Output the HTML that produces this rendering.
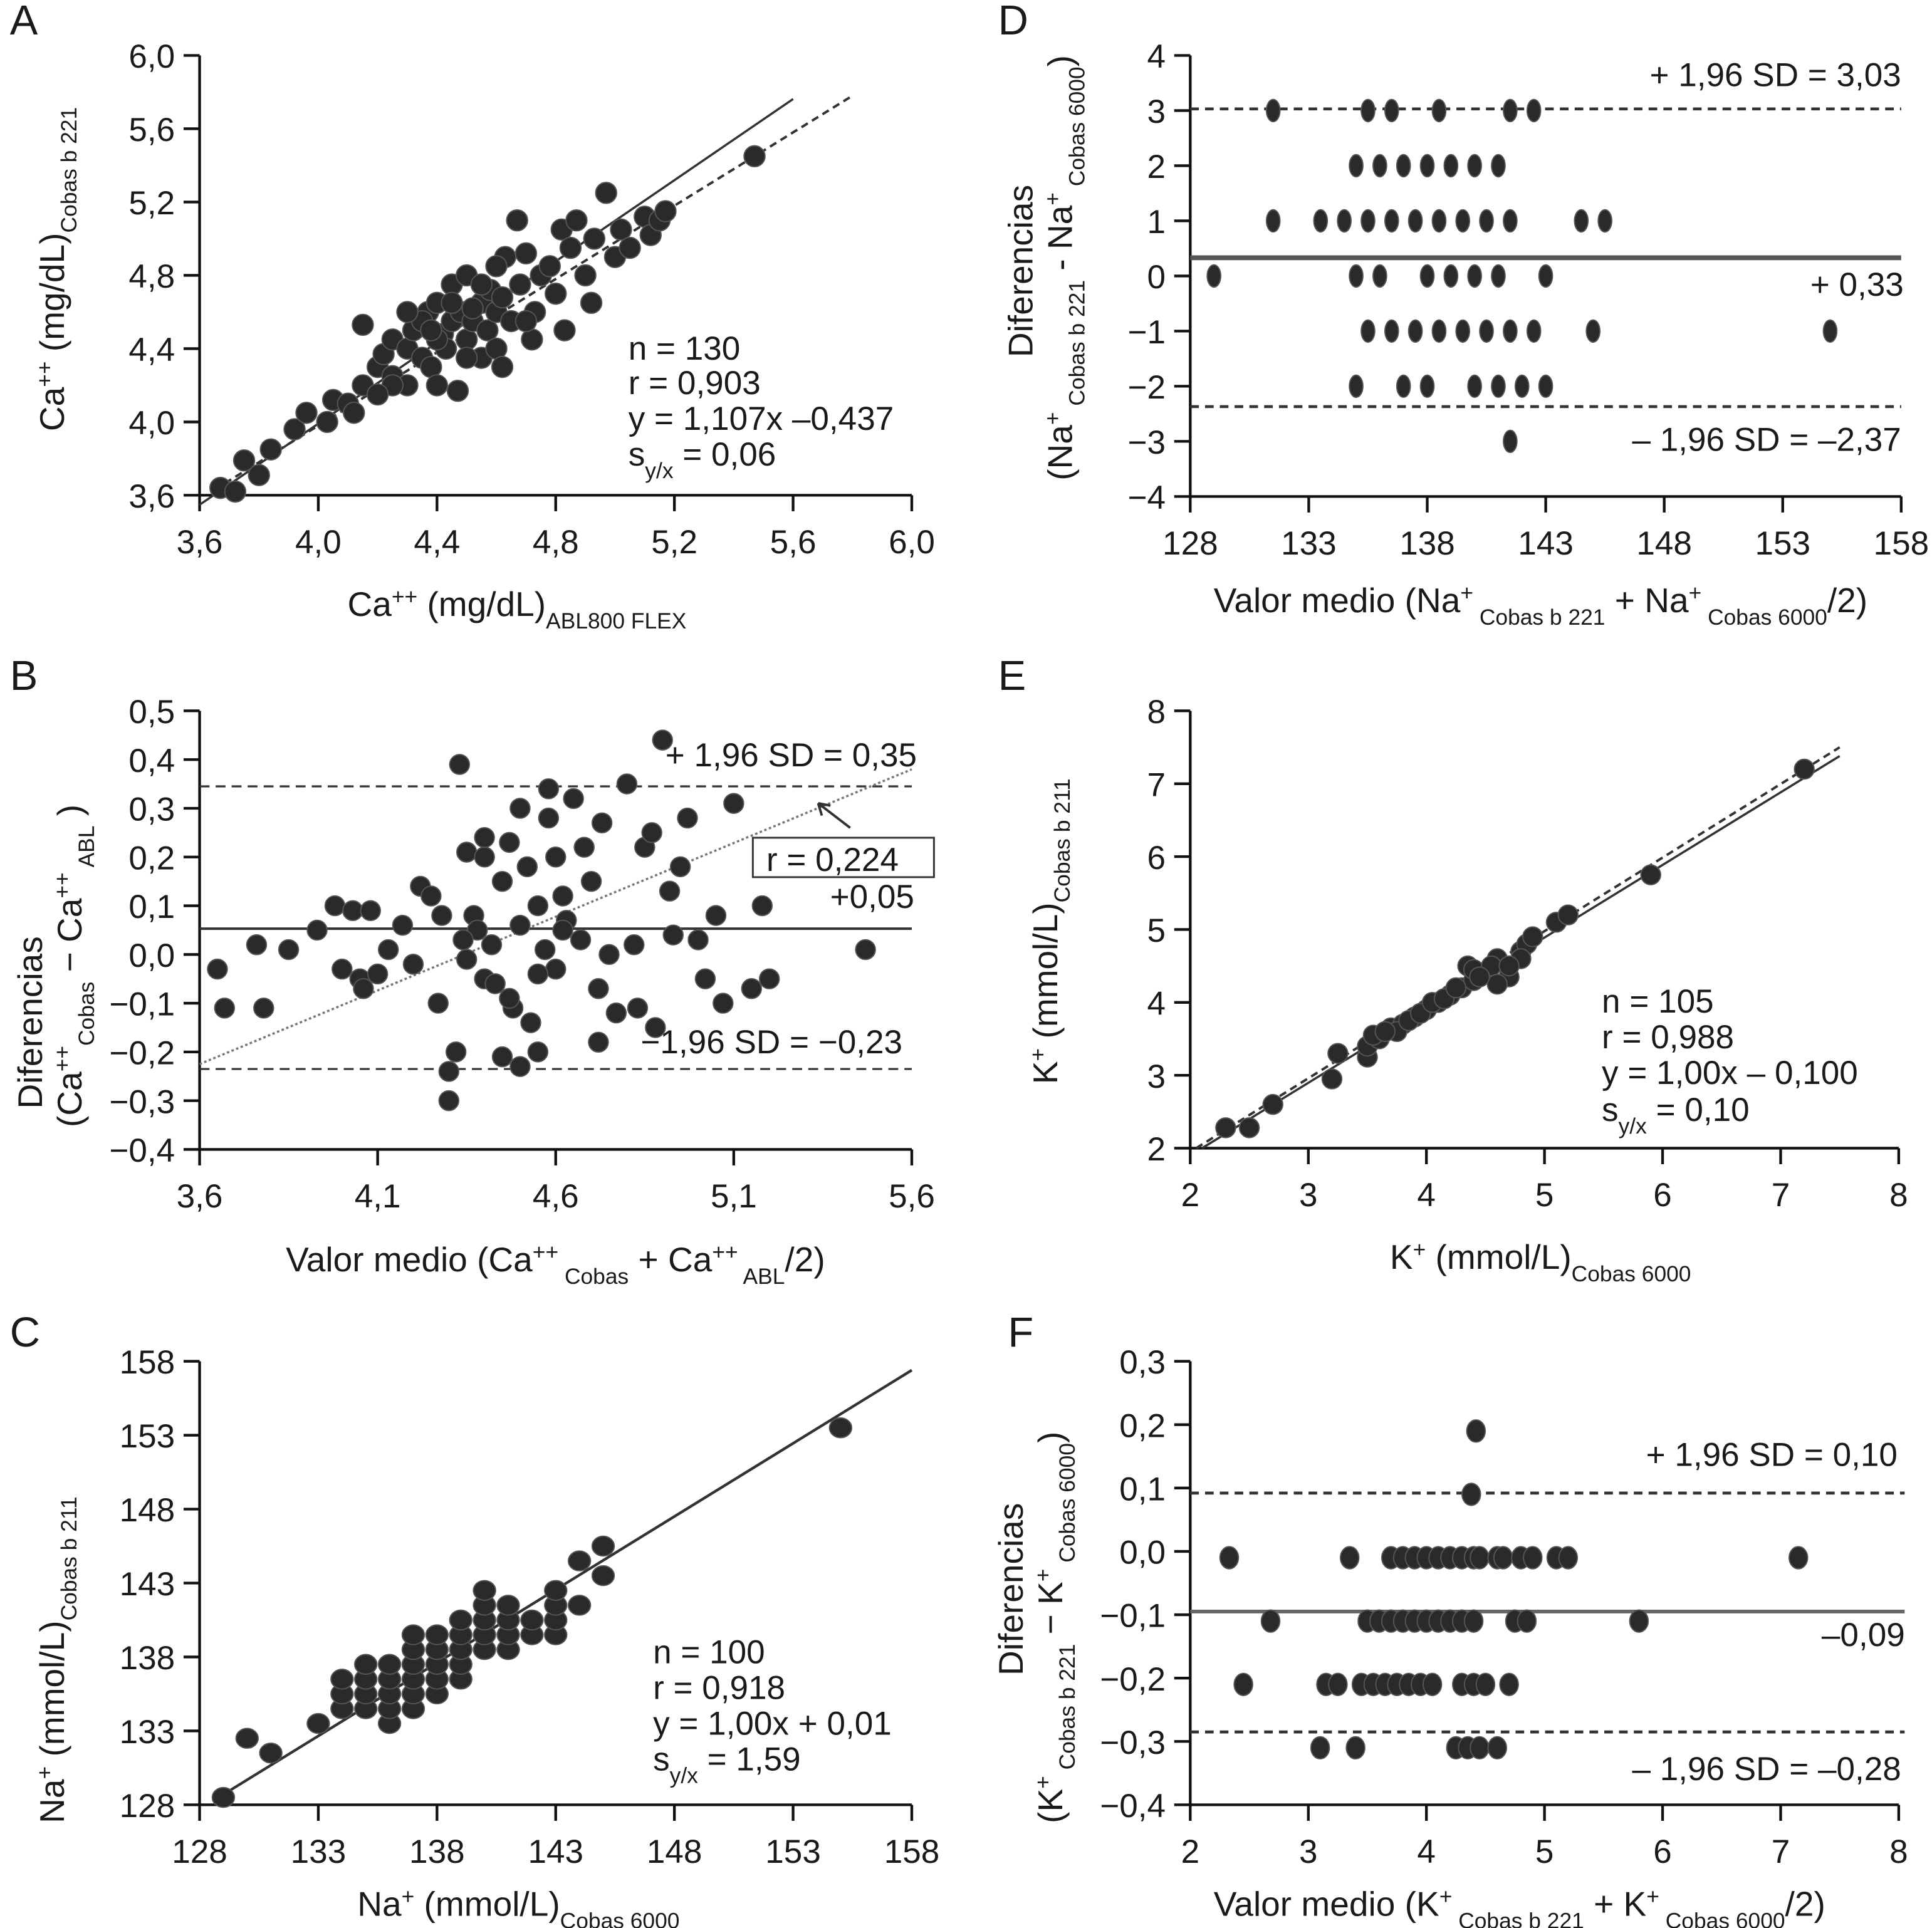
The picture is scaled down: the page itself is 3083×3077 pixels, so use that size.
<!DOCTYPE html>
<html><head><meta charset="utf-8"><style>
html,body{margin:0;padding:0;background:#fff}
svg{display:block}
text{font-family:"Liberation Sans",Arial,sans-serif;fill:#1a1a1a}
</style></head><body>
<svg id="fig" width="3083" height="3077" viewBox="0 0 1568 1565" preserveAspectRatio="none" xmlns="http://www.w3.org/2000/svg"></svg>
<script>
// ---------- DATA ----------
const aX=[3.67,3.72,3.75,3.8,3.84,3.92,3.96,4.05,4.03,4.1,4.12,4.15,4.15,4.2,4.22,4.25,4.25,4.3,4.3,4.32,4.35,4.37,4.38,4.4,4.4,4.42,4.43,4.45,4.45,4.47,4.48,4.5,4.5,4.52,4.55,4.55,4.57,4.58,4.6,4.6,4.62,4.63,4.65,4.67,4.68,4.7,4.72,4.73,4.75,4.78,4.8,4.82,4.83,4.85,4.87,4.9,4.92,4.93,4.97,5.0,5.02,5.05,5.1,5.12,5.15,5.17,5.47,4.35,4.4,4.5,4.45,4.55,4.3,4.6,4.25,4.2,4.38,4.52,4.62,4.7];
const aY=[3.64,3.62,3.79,3.71,3.85,3.96,4.05,4.12,4.0,4.1,4.05,4.2,4.53,4.3,4.37,4.45,4.25,4.4,4.2,4.5,4.35,4.6,4.3,4.2,4.65,4.48,4.4,4.55,4.75,4.17,4.6,4.45,4.8,4.55,4.65,4.35,4.5,4.72,4.4,4.6,4.3,4.9,4.55,5.1,4.75,4.92,4.45,4.6,4.8,4.85,4.7,5.05,4.5,4.95,5.1,4.8,4.65,5.0,5.25,4.9,5.05,4.95,5.12,5.02,5.1,5.15,5.45,4.55,4.45,4.35,4.65,4.75,4.6,4.85,4.2,4.15,4.5,4.62,4.68,4.55];
const bX=[3.65,3.67,3.76,3.78,3.85,3.93,3.98,4.0,4.03,4.05,4.06,4.08,4.1,4.13,4.17,4.2,4.22,4.25,4.27,4.3,4.3,4.32,4.33,4.35,4.37,4.38,4.4,4.4,4.42,4.43,4.45,4.45,4.47,4.48,4.5,4.5,4.52,4.53,4.55,4.55,4.57,4.58,4.6,4.6,4.62,4.63,4.65,4.67,4.68,4.7,4.72,4.73,4.75,4.77,4.8,4.82,4.83,4.85,4.87,4.88,4.9,4.92,4.93,4.95,4.97,5.0,5.02,5.05,5.07,5.1,5.15,5.18,5.2,5.47,4.34,4.5,4.35,4.47,4.58,4.72,4.4,4.28,4.55,4.62];
const bY=[-0.03,-0.11,0.02,-0.11,0.01,0.05,0.1,-0.03,0.09,-0.05,-0.07,0.09,-0.04,0.01,0.06,-0.02,0.14,0.12,-0.1,-0.24,-0.3,-0.2,0.39,0.21,0.08,0.05,0.2,-0.05,0.02,-0.06,0.15,-0.21,0.23,-0.11,0.3,0.06,0.18,-0.14,0.1,-0.2,0.01,0.34,0.2,-0.03,0.12,0.07,0.32,0.03,0.22,0.15,-0.07,0.27,0.0,-0.12,0.35,0.02,-0.11,0.22,0.25,-0.15,0.44,0.13,0.04,0.18,0.28,0.03,-0.05,0.08,-0.1,0.31,-0.07,0.1,-0.05,0.01,0.03,-0.23,-0.01,-0.09,0.28,-0.18,0.24,0.08,-0.04,0.05];
const cX=[129,130,131,133,134,134,134,135,135,135,135,136,136,136,136,136,137,137,137,137,137,137,138,138,138,138,138,139,139,139,139,139,140,140,140,140,140,141,141,141,141,142,142,143,143,143,143,144,144,145,145,155];
const cY=[128.5,132.5,131.5,133.5,134.5,135.5,136.5,134.5,135.5,136.5,137.5,133.5,134.5,135.5,136.5,137.5,134.5,135.5,136.5,137.5,138.5,139.5,135.5,136.5,137.5,138.5,139.5,136.5,137.5,138.5,139.5,140.5,138.5,139.5,140.5,141.5,142.5,138.5,139.5,140.5,141.5,139.5,140.5,139.5,140.5,141.5,142.5,141.5,144.5,143.5,145.5,153.5];
const dX=[131.5,135.5,136.5,138.5,141.5,142.5, 135,136,137,138,139,140,141, 131.5,133.5,134.5,135.5,136.5,137.5,138.5,139.5,140.5,141.5,144.5,145.5, 129,135,136,138,139,140,141,143, 135.5,136.5,137.5,138.5,139.5,140.5,141.5,142.5,145,155, 135,137,138,140,141,142,143, 141.5];
const dY=[3,3,3,3,3,3, 2,2,2,2,2,2,2, 1,1,1,1,1,1,1,1,1,1,1,1, 0,0,0,0,0,0,0,0, -1,-1,-1,-1,-1,-1,-1,-1,-1,-1, -2,-2,-2,-2,-2,-2,-2, -3];
const eX=[2.3,2.5,2.7,3.2,3.25,3.5,3.5,3.6,3.7,3.8,3.9,4.0,4.1,4.2,4.3,4.35,4.4,4.5,4.6,4.7,4.8,4.85,4.9,5.1,5.2,5.9,7.2,3.55,3.75,3.85,3.95,4.05,4.15,4.25,4.4,4.55,4.6,4.8,4.7,3.65,4.45];
const eY=[2.28,2.28,2.6,2.95,3.3,3.25,3.4,3.5,3.65,3.7,3.8,3.9,4.0,4.1,4.2,4.5,4.3,4.4,4.6,4.35,4.7,4.8,4.9,5.1,5.2,5.75,7.2,3.55,3.6,3.75,3.85,4.0,4.05,4.2,4.45,4.5,4.25,4.6,4.5,3.6,4.35];
const fX=[4.42,4.38, 2.33,3.35,3.7,3.8,3.9,4.0,4.1,4.2,4.3,4.4,4.45,4.6,4.65,4.8,4.9,5.1,5.2,7.15, 2.68,3.5,3.6,3.7,3.8,3.9,4.0,4.1,4.2,4.3,4.4,4.75,4.85,5.8, 2.45,3.15,3.25,3.45,3.55,3.65,3.75,3.85,3.95,4.05,4.3,4.4,4.5,4.7, 3.1,3.4,4.25,4.35,4.45,4.6];
const fY=[0.19,0.09, -0.01,-0.01,-0.01,-0.01,-0.01,-0.01,-0.01,-0.01,-0.01,-0.01,-0.01,-0.01,-0.01,-0.01,-0.01,-0.01,-0.01,-0.01, -0.11,-0.11,-0.11,-0.11,-0.11,-0.11,-0.11,-0.11,-0.11,-0.11,-0.11,-0.11,-0.11,-0.11, -0.21,-0.21,-0.21,-0.21,-0.21,-0.21,-0.21,-0.21,-0.21,-0.21,-0.21,-0.21,-0.21,-0.21, -0.31,-0.31,-0.31,-0.31,-0.31,-0.31];
const aTicks=["3,6","4,0","4,4","4,8","5,2","5,6","6,0"];
const bXTicks=["3,6","4,1","4,6","5,1","5,6"];
const bYTicks=["−0,4","−0,3","−0,2","−0,1","0,0","0,1","0,2","0,3","0,4","0,5"];
const cTicks=["128","133","138","143","148","153","158"];
const dYTicks=["−4","−3","−2","−1","0","1","2","3","4"];
const eTicks=["2","3","4","5","6","7","8"];
const fYTicks=["−0,4","−0,3","−0,2","−0,1","0,0","0,1","0,2","0,3"];

// ---------- DRAW ----------
const svg=document.getElementById('fig');
const NS='http://www.w3.org/2000/svg';
function el(tag,attrs,parent){const e=document.createElementNS(NS,tag);for(const k in attrs)e.setAttribute(k,attrs[k]);(parent||svg).appendChild(e);return e;}
function num(s){return parseFloat(s.replace('−','-').replace(',','.'));}

function panel(p){
  const g=el('g',{});
  
  
  const sx=v=>p.x0+(v-p.xmin)/(p.xmax-p.xmin)*(p.x1-p.x0);
  const sy=v=>p.y0-(v-p.ymin)/(p.ymax-p.ymin)*(p.y0-p.y1);
  p.sx=sx;p.sy=sy;
  const ax=el('path',{d:`M${p.x0},${p.y1}V${p.y0}H${p.x1}`,stroke:'#111','stroke-width':2.2,fill:'none'},g);
  
  
  p.xt.forEach(t=>{const x=sx(num(t));
    el('line',{x1:x,x2:x,y1:p.y0,y2:p.y0+13,stroke:'#111','stroke-width':2.2},g);
    const tx=el('text',{x:x,y:p.y0+47,'font-size':27,'text-anchor':'middle'},g);tx.textContent=t;
    
    });
  p.yt.forEach(t=>{const y=sy(num(t));
    el('line',{x1:p.x0-13,x2:p.x0,y1:y,y2:y,stroke:'#111','stroke-width':2.2},g);
    const ty=el('text',{x:p.x0-20,y:y+10,'font-size':27,'text-anchor':'end'},g);ty.textContent=t;
    
    });
  return g;
}
function dots(p,g,xs,ys,rx,ry){
  xs.forEach((v,i)=>{const c=el('ellipse',{cx:p.sx(v),cy:p.sy(ys[i]),rx:rx,ry:ry,fill:'#2a2a2a',stroke:'#555','stroke-width':1},g);
    
    });
}
function line(p,g,x1,y1,x2,y2,dash,w,name,col){
  const l=el('line',{x1:p.sx(x1),y1:p.sy(y1),x2:p.sx(x2),y2:p.sy(y2),stroke:col||'#333','stroke-width':w||2,'stroke-dasharray':dash||'none'},g);
  
  
}
function txt(g,x,y,html,size,name,anchor,rot){
  const t=el('text',{x:x,y:y,'font-size':size,'text-anchor':anchor||'start'},g);
  if(rot)t.setAttribute('transform',`rotate(-90 ${x} ${y})`);
  t.innerHTML=html;
  
  
}
const sup=s=>`<tspan baseline-shift="super" font-size="18">${s}</tspan>`;
const sub=s=>`<tspan baseline-shift="sub" font-size="18">${s}</tspan>`;

// Panel A
const A={name:'panel-a',x0:162,x1:740,xmin:3.6,xmax:6.0,y0:402,y1:45,ymin:3.6,ymax:6.0,xt:aTicks,yt:aTicks};
let g=panel(A);
line(A,g,3.65,3.63,5.8,5.78,'6,4',2,'dashed-fit-line');
line(A,g,3.6,3.548,5.6,5.762,'none',1.8,'regression-line');
dots(A,g,aX,aY,8.5,8.5);
txt(g,8,28,'A',34,'panel-label');
txt(g,510,292,'n = 130',27,'stat-n');
txt(g,510,320,'r = 0,903',27,'stat-r');
txt(g,510,349,'y = 1,107x –0,437',27,'stat-eq');
txt(g,510,378,'s'+sub('y/x')+' = 0,06',27,'stat-s');
txt(g,282,500,'Ca'+sup('++')+' (mg/dL)'+sub('ABL800 FLEX'),28,'x-axis-title');
txt(g,52,350,'Ca'+sup('++')+' (mg/dL)'+sub('Cobas b 221'),28,'y-axis-title','start',true);

// Panel B
const B={name:'panel-b',x0:162,x1:740,xmin:3.6,xmax:5.6,y0:933,y1:577,ymin:-0.4,ymax:0.5,xt:bXTicks,yt:bYTicks};
g=panel(B);
line(B,g,3.6,0.345,5.6,0.345,'8,5',1.6,'upper-limit-line');
line(B,g,3.6,-0.235,5.6,-0.235,'8,5',1.6,'lower-limit-line');
line(B,g,3.6,0.053,5.6,0.053,'none',2,'mean-line');
line(B,g,3.6,-0.225,5.6,0.38,'2,2',1.8,'trend-line','#777');
dots(B,g,bX,bY,8,8);
txt(g,8,560,'B',34,'panel-label');
txt(g,540,622,'+ 1,96 SD = 0,35',27,'upper-limit-label');
txt(g,742,737,'+0,05',27,'mean-label','end');
txt(g,520,855,'−1,96 SD = −0,23',27,'lower-limit-label');
const box=el('rect',{x:611,y:680,width:147,height:32,fill:'#fff',stroke:'#333','stroke-width':1.5},g);

txt(g,622,707,'r = 0,224',27,'stat-r');
el('path',{d:'M690,672 L664,652 M664,652 l3,10 M664,652 l10,2',stroke:'#333','stroke-width':2,fill:'none'},g);
txt(g,232,1032,'Valor medio (Ca'+sup('++')+sub(' Cobas')+' + Ca'+sup('++')+sub(' ABL')+'/2)',28,'x-axis-title');
txt(g,34,900,'Diferencias',28,'y-axis-title','start',true);
txt(g,66,915,'(Ca'+sup('++')+sub('Cobas')+' − Ca'+sup('++')+sub(' ABL')+' )',28,'y-axis-title-2','start',true);

// Panel C
const C={name:'panel-c',x0:162,x1:740,xmin:128,xmax:158,y0:1465,y1:1105,ymin:128,ymax:158,xt:cTicks,yt:cTicks};
g=panel(C);
line(C,g,128.8,128.5,158,157.4,'none',2.2,'regression-line');
dots(C,g,cX,cY,9,8);
txt(g,8,1093,'C',34,'panel-label');
txt(g,530,1350,'n = 100',27,'stat-n');
txt(g,530,1379,'r = 0,918',27,'stat-r');
txt(g,530,1408,'y = 1,00x + 0,01',27,'stat-eq');
txt(g,530,1437,'s'+sub('y/x')+' = 1,59',27,'stat-s');
txt(g,290,1555,'Na'+sup('+')+' (mmol/L)'+sub('Cobas 6000'),28,'x-axis-title');
txt(g,52,1480,'Na'+sup('+')+' (mmol/L)'+sub('Cobas b 211'),28,'y-axis-title','start',true);

// Panel D
const D={name:'panel-d',x0:966,x1:1543,xmin:128,xmax:158,y0:403,y1:45,ymin:-4,ymax:4,xt:cTicks,yt:dYTicks};
g=panel(D);
line(D,g,128,3.03,158,3.03,'7,5',2.4,'upper-limit-line');
line(D,g,128,-2.37,158,-2.37,'7,5',2.4,'lower-limit-line');
line(D,g,128,0.33,158,0.33,'none',4,'mean-line','#555');
dots(D,g,dX,dY,5.5,9);
txt(g,810,28,'D',34,'panel-label');
txt(g,1543,70,'+ 1,96 SD = 3,03',27,'upper-limit-label','end');
txt(g,1545,240,'+ 0,33',27,'mean-label','end');
txt(g,1543,366,'– 1,96 SD = –2,37',27,'lower-limit-label','end');
txt(g,985,497,'Valor medio (Na'+sup('+')+sub(' Cobas b 221')+' + Na'+sup('+')+sub(' Cobas 6000')+'/2)',28,'x-axis-title');
txt(g,838,290,'Diferencias',28,'y-axis-title','start',true);
txt(g,870,390,'(Na'+sup('+')+sub(' Cobas b 221')+' - Na'+sup('+')+sub(' Cobas 6000')+')',28,'y-axis-title-2','start',true);

// Panel E
const E={name:'panel-e',x0:966,x1:1541,xmin:2,xmax:8,y0:932,y1:577,ymin:2,ymax:8,xt:eTicks,yt:eTicks};
g=panel(E);
line(E,g,2.05,2.0,7.5,7.5,'6,4',2,'dashed-fit-line');
line(E,g,2.1,2.0,7.5,7.38,'none',1.8,'regression-line');
dots(E,g,eX,eY,8,8);
txt(g,810,560,'E',34,'panel-label');
txt(g,1300,822,'n = 105',27,'stat-n');
txt(g,1300,851,'r = 0,988',27,'stat-r');
txt(g,1300,880,'y = 1,00x  – 0,100',27,'stat-eq');
txt(g,1300,910,'s'+sub('y/x')+' = 0,10',27,'stat-s');
txt(g,1128,1030,'K'+sup('+')+' (mmol/L)'+sub('Cobas 6000'),28,'x-axis-title');
txt(g,858,880,'K'+sup('+')+' (mmol/L)'+sub('Cobas b 211'),28,'y-axis-title','start',true);

// Panel F
const F={name:'panel-f',x0:966,x1:1541,xmin:2,xmax:8,y0:1465,y1:1105,ymin:-0.4,ymax:0.3,xt:eTicks,yt:fYTicks};
g=panel(F);
line(F,g,2,0.092,8.05,0.092,'7,5',2.4,'upper-limit-line');
line(F,g,2,-0.285,8.05,-0.285,'7,5',2.4,'lower-limit-line');
line(F,g,2,-0.095,8.05,-0.095,'none',3,'mean-line','#666');
dots(F,g,fX,fY,7.5,9);
txt(g,818,1093,'F',34,'panel-label');
txt(g,1540,1190,'+ 1,96 SD = 0,10',27,'upper-limit-label','end');
txt(g,1546,1336,'–0,09',27,'mean-label','end');
txt(g,1543,1445,'– 1,96 SD = –0,28',27,'lower-limit-label','end');
txt(g,985,1555,'Valor medio (K'+sup('+')+sub(' Cobas b 221')+' + K'+sup('+')+sub(' Cobas 6000')+'/2)',28,'x-axis-title');
txt(g,830,1360,'Diferencias',28,'y-axis-title','start',true);
txt(g,862,1480,'(K'+sup('+')+sub(' Cobas b 221')+' − K'+sup('+')+sub(' Cobas 6000')+')',28,'y-axis-title-2','start',true);
</script>
</body></html>
